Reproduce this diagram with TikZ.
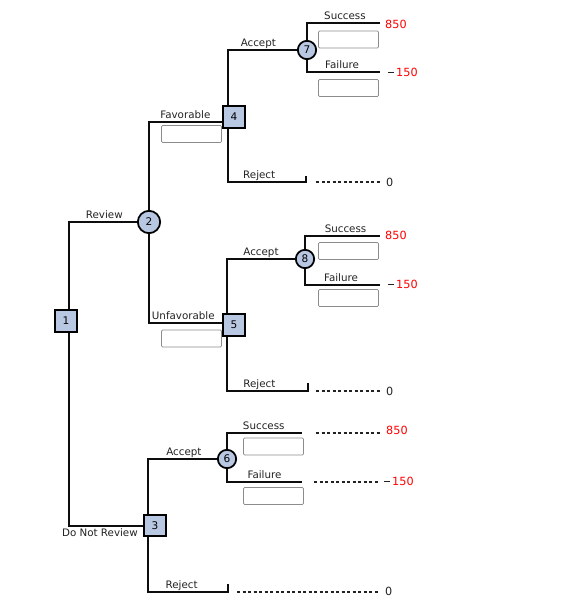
\documentclass[tikz,border=0pt]{standalone}
\usepackage{fontspec}
\setmainfont{DejaVu Sans}
\usepackage{xcolor}
\usepackage{tikz}
\usetikzlibrary{calc,backgrounds}

\definecolor{nodeblue}{RGB}{185,200,226}
\definecolor{labelgray}{RGB}{34,34,34}
\definecolor{boxgray}{RGB}{140,140,140}

\tikzset{
  branch/.style={line width=1.8pt, draw=black!95},
  tail/.style={line width=1.1pt, draw=labelgray, dash pattern=on 2.8pt off 1.9pt, shorten >=5pt},
  decision/.style={draw, line width=1.5pt, fill=nodeblue, minimum size=0.64cm, inner sep=0pt, font=\fontsize{9}{10}\selectfont},
  chance/.style={circle, draw, line width=1.5pt, fill=nodeblue, minimum size=0.55cm, inner sep=0pt, font=\fontsize{9}{10}\selectfont},
  lbl/.style={anchor=base, yshift=3.4pt, inner sep=0pt, text=labelgray, font=\fontsize{8.8}{10}\selectfont},
  probbox/.style={draw=boxgray, line width=0.6pt, fill=white, rounded corners=1pt, minimum width=1.8cm, minimum height=0.51cm, inner sep=0pt},
  payoff/.style={anchor=west, inner sep=0pt, font=\fontsize{9.6}{11}\selectfont},
}

\newcommand{\lossdash}{\textcolor{labelgray}{\rule[2.7pt]{4.8pt}{0.8pt}}\kern2pt}

\begin{document}
\begin{tikzpicture}[x=0.03cm, y=-0.03cm]
    \useasboundingbox (0,0) rectangle (565,604);

    % decision and chance nodes
    \node[decision] (n1) at (66,321) {1};
    \node[chance, minimum size=0.67cm] (n2) at (149,222) {2};
    \node[decision] (n3) at (155,525.5) {3};
    \node[decision] (n4) at (234,117) {4};
    \node[decision] (n5) at (234,325) {5};
    \node[chance] (n6) at (227,459) {6};
    \node[chance] (n7) at (307,50) {7};
    \node[chance] (n8) at (305,259) {8};

    % where the branches meet the squares
    \coordinate (j1) at (69,321);
    \coordinate (j3) at (148,526);
    \coordinate (j4) at (228,122);
    \coordinate (j5) at (227,323);

    % branch ends
    \coordinate (s7) at (380,23);
    \coordinate (f7) at (380,72);
    \coordinate (s8) at (380,236);
    \coordinate (f8) at (380,285);
    \coordinate (s6) at (302,433);
    \coordinate (f6) at (302,482);
    \coordinate (r4) at (306,182);
    \coordinate (t4) at (306,176);
    \coordinate (r5) at (308,391);
    \coordinate (t5) at (308,383);
    \coordinate (r3) at (228,592);
    \coordinate (t3) at (228,584);

    % payoffs
    \node[payoff, text=red] (v7s) at (385,24.5) {850};
    \node[payoff, text=red] (v7f) at (388,72) {\lossdash 150};
    \node[payoff, text=red] (v8s) at (385,235) {850};
    \node[payoff, text=red] (v8f) at (388,284.5) {\lossdash 150};
    \node[payoff, text=red] (v6s) at (386,430.5) {850};
    \node[payoff, text=red] (v6f) at (384,481) {\lossdash 150};
    \node[payoff, text=labelgray] (v4) at (386,182) {0};
    \node[payoff, text=labelgray] (v5) at (386,391) {0};
    \node[payoff, text=labelgray] (v3) at (385,591.5) {0};

    % probability boxes
    \node[probbox] (pfav) at (191.5,134) {};
    \node[probbox] (punf) at (191.5,338.5) {};
    \node[probbox] (p7s) at (348.5,39.5) {};
    \node[probbox] (p7f) at (348.5,88) {};
    \node[probbox] (p8s) at (348.5,251) {};
    \node[probbox] (p8f) at (348.5,298) {};
    \node[probbox] (p6s) at (273.5,446.5) {};
    \node[probbox] (p6f) at (273.5,496) {};

    \begin{scope}[on background layer]
        \draw[branch] (j1) |- (n2) node[lbl,pos=0.76] (lrev) {Review};
        \draw[branch] (j1) |- (j3);
        \node[lbl, anchor=north east, yshift=0pt] (ldnr) at (138,532) {Do Not Review};

        \draw[branch] (n2) |- (j4) node[lbl,pos=0.73] (lfav) {Favorable};
        \draw[branch] (n2) |- (j5) node[lbl,pos=0.72] (lunf) {Unfavorable};

        \draw[branch] (j4) |- (n7) node[lbl,pos=0.72] (lacc4) {Accept};
        \draw[branch] (j4) |- (r4) node[lbl,pos=0.70] (lrej4) {Reject} -- (t4);
        \draw[branch] (n7) |- (s7) node[lbl,pos=0.76] (lsuc7) {Success};
        \draw[branch] (n7) |- (f7) node[lbl,pos=0.74] (lfai7) {Failure};

        \draw[branch] (j5) |- (n8) node[lbl,pos=0.75] (lacc5) {Accept};
        \draw[branch] (j5) |- (r5) node[lbl,pos=0.70] (lrej5) {Reject} -- (t5);
        \draw[branch] (n8) |- (s8) node[lbl,pos=0.77] (lsuc8) {Success};
        \draw[branch] (n8) |- (f8) node[lbl,pos=0.74] (lfai8) {Failure};

        \draw[branch] (j3) |- (n6) node[lbl,pos=0.76] (lacc3) {Accept};
        \draw[branch] (j3) |- (r3) node[lbl,pos=0.71] (lrej3) {Reject} -- (t3);
        \draw[branch] (n6) |- (s6) node[lbl,pos=0.745] (lsuc6) {Success};
        \draw[branch] (n6) |- (f6) node[lbl,pos=0.75] (lfai6) {Failure};

        % dashed lines out to the payoffs
        \coordinate (d4) at (316,182);
        \coordinate (d5) at (316,391);
        \coordinate (d3) at (237,592);
        \coordinate (d6s) at (316,433);
        \coordinate (d6f) at (314,482);
        \draw[tail] (d4) -- (d4 -| v4.west);
        \draw[tail] (d5) -- (d5 -| v5.west);
        \draw[tail] (d3) -- (d3 -| v3.west);
        \draw[tail] (d6s) -- (d6s -| v6s.west);
        \draw[tail] (d6f) -- (d6f -| v6f.west);
    \end{scope}
\end{tikzpicture}
\end{document}
